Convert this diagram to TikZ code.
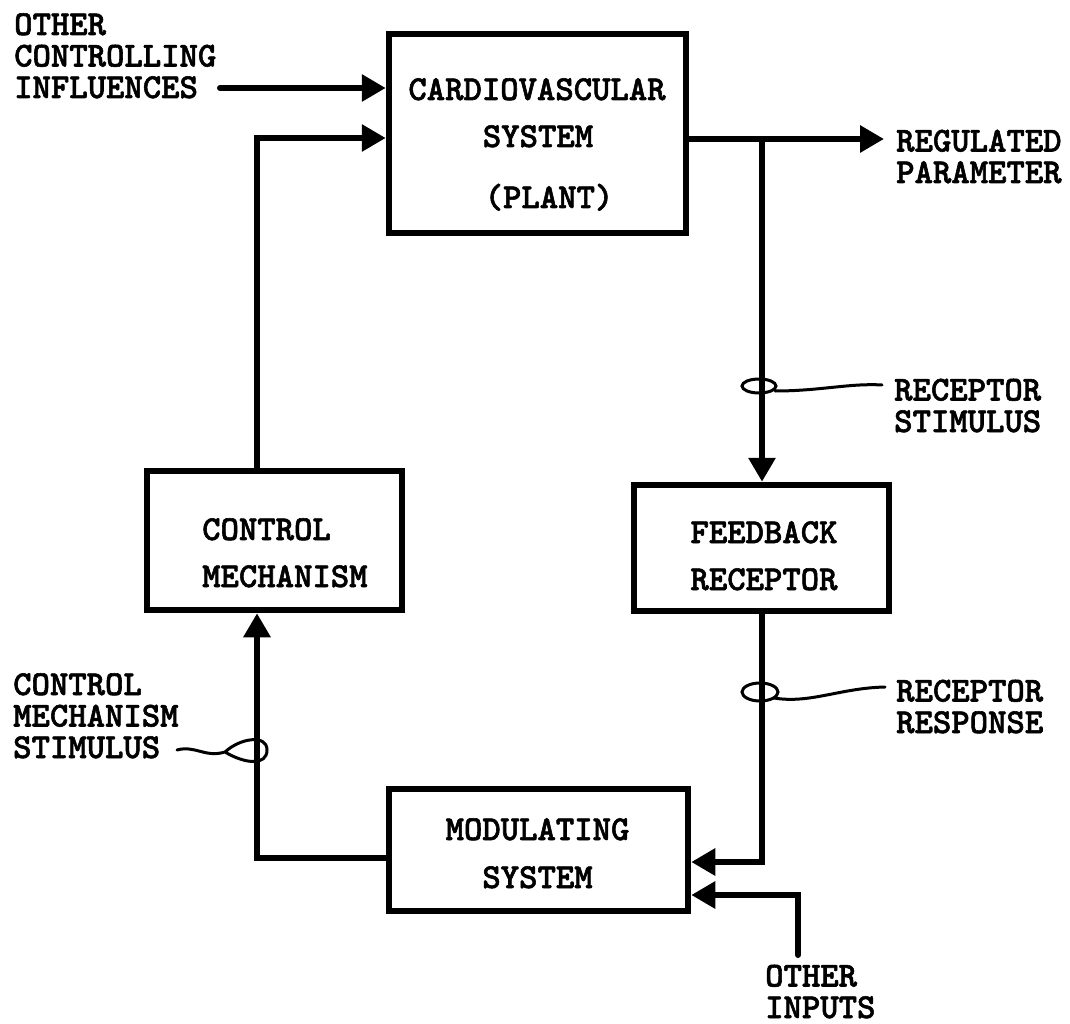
\documentclass[tikz,border=0pt]{standalone}
\usepackage{fontspec}
\newfontfamily\twfont{lmmonolt10-bold.otf}[FakeBold=1.6]
\usetikzlibrary{arrows.meta}
\tikzset{
  lbl/.style={font=\fontsize{35}{31.5}\selectfont\twfont, inner sep=0pt, align=left, anchor=base west},
  txt/.style={font=\fontsize{35}{31.5}\selectfont\twfont, inner sep=0pt, anchor=base},
  txtl/.style={font=\fontsize{35}{31.5}\selectfont\twfont, inner sep=0pt, anchor=base west},
  blk/.style={draw, line width=6.5pt, inner sep=0pt},
  flow/.style={line width=6pt, -{Triangle[length=24pt,width=26pt]}},
  loopline/.style={line width=3pt, line cap=round},
}
\begin{document}
\begin{tikzpicture}[x=1pt,y=-1pt]
\useasboundingbox (0,0) rectangle (1070,1024);
% boxes
\node[blk, minimum width=297pt, minimum height=199pt] (cv) at (537.5,133.5) {};
\node[blk, minimum width=255pt, minimum height=139pt] (cm) at (274.5,540.5) {};
\node[blk, minimum width=255pt, minimum height=126pt] (fb) at (761.5,548) {};
\node[blk, minimum width=299pt, minimum height=122pt] (mod) at (538.5,850) {};
% box texts
\node[txt] (cvt1) at (537,100) {CARDIOVASCULAR};
\node[txt] (cvt2) at (538,147) {SYSTEM};
\node[txt] (cvt3) at (549,208) {(PLANT)};
\node[txtl] (cmt1) at (202,540) {CONTROL};
\node[txtl] (cmt2) at (202,587) {MECHANISM};
\node[txt] (fbt1) at (764,543) {FEEDBACK};
\node[txt] (fbt2) at (764,590) {RECEPTOR};
\node[txt] (mt1) at (537.5,840) {MODULATING};
\node[txt] (mt2) at (537.5,888) {SYSTEM};
% outside labels (anchor = baseline of last line)
\node[lbl] (oci) at (14,98) {OTHER\\CONTROLLING\\INFLUENCES};
\node[lbl] (rp) at (896,183) {REGULATED\\PARAMETER};
\node[lbl] (rs) at (894,432) {RECEPTOR\\STIMULUS};
\node[lbl] (rr) at (896,733) {RECEPTOR\\RESPONSE};
\node[lbl] (cms) at (13,758) {CONTROL\\MECHANISM\\STIMULUS};
\node[lbl] (oi) at (765,1018) {OTHER\\INPUTS};
% connectors
\coordinate (ociS) at (220,88);
\draw[flow, line cap=round] (ociS) -- (cv.west |- ociS);
\coordinate (c1) at (257,138);
\draw[flow] (cm.north -| c1) -- (c1) -- (cv.west |- c1);
\coordinate (rpT) at (884,139);
\draw[flow] (cv.east |- rpT) -- (rpT);
\coordinate (br) at (762,139);
\draw[flow] (br) -- (fb.north -| br);
\coordinate (c2) at (762,862);
\draw[flow] (fb.south -| c2) -- (c2) -- (mod.east |- c2);
\coordinate (oiS) at (798,955);
\coordinate (c3) at (798,895);
\draw[flow, line cap=round] (oiS) -- (c3) -- (mod.east |- c3);
\coordinate (c4) at (257,858);
\draw[flow] (mod.west |- c4) -- (c4) -- (cm.south -| c4);
% label loops
\coordinate (rsT) at (882,385);
\draw[loopline] (759,386) ellipse [x radius=17pt, y radius=7pt];
\draw[loopline] (rsT) .. controls (850,383) and (820,391) .. (775,391);
\coordinate (rrT) at (885,687);
\draw[loopline] (760,692) ellipse [x radius=18pt, y radius=9pt];
\draw[loopline] (rrT) .. controls (840,688) and (810,704) .. (774,698);
\coordinate (cmsT) at (177,750);
\draw[loopline] (cmsT) .. controls (195,745) and (205,758) .. (225,752)
  .. controls (240,738) and (267,734) .. (267,750)
  .. controls (267,766) and (245,764) .. (225,752);
\end{tikzpicture}
\end{document}
